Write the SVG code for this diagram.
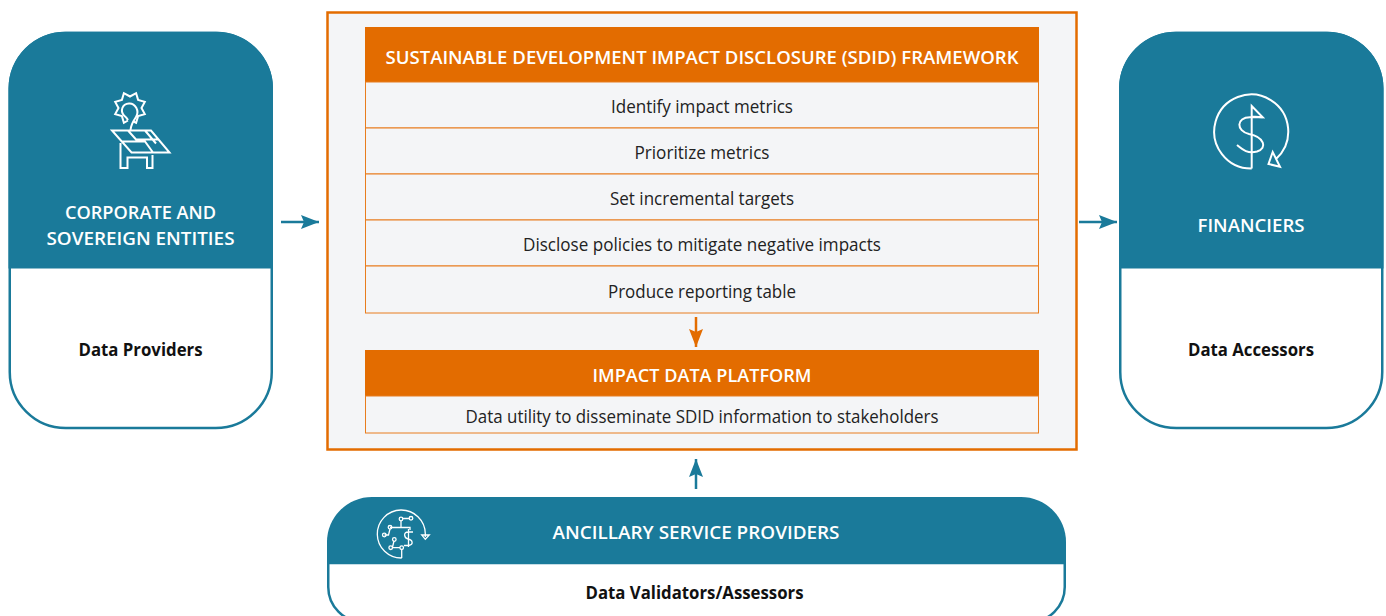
<svg xmlns="http://www.w3.org/2000/svg" width="1386" height="616" viewBox="0 0 1386 616">
<style>
text{font-family:"Open Sans","Noto Sans","Liberation Sans",sans-serif;text-anchor:middle}
.h{font-size:18px;font-weight:600;fill:#fff}
.b{font-size:18px;font-weight:700;fill:#111;}
.r{font-size:17.5px;fill:#222}
.row{fill:#f4f5f7;stroke:#e87d1e;stroke-width:1}
.bar{fill:#e36c00}
.teal{fill:#1a7a9a}
.ol{fill:#fff;stroke:#1a7a9a;stroke-width:2.5}
.ic{fill:none;stroke:#fff;stroke-width:2;stroke-linejoin:miter}
.ic2{fill:none;stroke:#fff;stroke-width:1.3}
</style>
<defs>
<marker id="at" markerUnits="userSpaceOnUse" markerWidth="18" markerHeight="14" refX="18" refY="7" orient="auto"><path d="M0 0L18 7L0 14L3 7Z" fill="#1a7a9a"/></marker>
<marker id="ao" markerUnits="userSpaceOnUse" markerWidth="18" markerHeight="14" refX="18" refY="7" orient="auto"><path d="M0 0L18 7L0 14L3 7Z" fill="#e36c00"/></marker>
</defs>
<rect width="1386" height="616" fill="#fff"/>
<g id="sdid-container">
<rect x="327.500" y="12.500" width="749" height="437" fill="#f4f5f7" stroke="#e36c00" stroke-width="2.500"/>
</g>
<g id="sdid-framework">
<rect class="bar" x="365" y="27" width="674" height="55"/>
<text class="h" x="702" y="64" textLength="633" lengthAdjust="spacingAndGlyphs">SUSTAINABLE DEVELOPMENT IMPACT DISCLOSURE (SDID) FRAMEWORK</text>
</g>
<g id="row-identify"><rect class="row" x="365.500" y="82" width="673" height="46"/><text class="r" x="702" y="112.500" textLength="182" lengthAdjust="spacingAndGlyphs">Identify impact metrics</text></g>
<g id="row-prioritize"><rect class="row" x="365.500" y="128" width="673" height="46"/><text class="r" x="702" y="158.500" textLength="135" lengthAdjust="spacingAndGlyphs">Prioritize metrics</text></g>
<g id="row-targets"><rect class="row" x="365.500" y="174" width="673" height="46"/><text class="r" x="702" y="204.500" textLength="184" lengthAdjust="spacingAndGlyphs">Set incremental targets</text></g>
<g id="row-policies"><rect class="row" x="365.500" y="220" width="673" height="46"/><text class="r" x="702" y="250.500" textLength="358" lengthAdjust="spacingAndGlyphs">Disclose policies to mitigate negative impacts</text></g>
<g id="row-reporting"><rect class="row" x="365.500" y="266" width="673" height="47"/><text class="r" x="702" y="297.500" textLength="188" lengthAdjust="spacingAndGlyphs">Produce reporting table</text></g>
<g id="impact-platform">
<rect class="bar" x="365" y="350" width="674" height="46"/>
<text class="h" x="702" y="381.500" textLength="219" lengthAdjust="spacingAndGlyphs">IMPACT DATA PLATFORM</text>
<rect class="row" x="365.500" y="396" width="673" height="37"/>
<text class="r" x="702" y="422.500" textLength="473" lengthAdjust="spacingAndGlyphs">Data utility to disseminate SDID information to stakeholders</text>
</g>
<g id="corporate">
<rect class="ol" x="9.750" y="33" width="262" height="395" rx="56"/>
<path class="teal" d="M8.500 268.500V88A56.500 56.500 0 0 1 65 31.750H217A56.500 56.500 0 0 1 273 88V268.500Z"/>
<path class="ic" d="M128 120.500L123.900 122.800L121.900 116.100L115.200 114.100L118.500 108L115.200 101.900L121.900 99.900L123.900 93.200L130 96.500L136.100 93.200L138.100 99.900L144.800 101.900L141.500 108L144.800 114.100L138.100 116.100L136.100 122.800L133.500 121.500" stroke-width="1.800"/>
<path class="ic" d="M130.500 130C131 124 134 120 136 117C140 111 135 103 129 103.500C122 104 120 111 124 115.500C126 117 127 118 128 120" stroke-width="1.800"/>
<path class="ic" d="M112 130.500H151L169.500 152.500H131.500ZM128 130.500L136 139.500H158M122 141.500H145L153 152.500M145 130.500L156 143.500M120.500 143V168H127.500V157.500H147V168H152.500V155"/>
<text class="h" x="140.500" y="218.500" textLength="151" lengthAdjust="spacingAndGlyphs">CORPORATE AND</text>
<text class="h" x="140.500" y="244.500" textLength="188" lengthAdjust="spacingAndGlyphs">SOVEREIGN ENTITIES</text>
<text class="b" x="140.500" y="355.500" textLength="124" lengthAdjust="spacingAndGlyphs">Data Providers</text>
</g>
<g id="financiers">
<rect class="ol" x="1120.250" y="33" width="262" height="395" rx="56"/>
<path class="teal" d="M1119 268.500V88A56.500 56.500 0 0 1 1175.500 31.750H1327.500A56.500 56.500 0 0 1 1383.500 88V268.500Z"/>
<path class="ic" d="M1251.700 168.500V106L1262.700 117.300L1251.700 116.500M1251.700 168.500A37 37 0 1 1 1276 159M1272.700 152L1268.500 164L1280 166.700Z"/>
<path class="ic" d="M1262.700 117.300H1250C1236 117.300 1236 131 1249 134C1264 137 1268 148 1257 151.500C1248 154 1243 150 1237 145"/>
<text class="h" x="1251" y="231.500" textLength="107" lengthAdjust="spacingAndGlyphs">FINANCIERS</text>
<text class="b" x="1251" y="355.500" textLength="126" lengthAdjust="spacingAndGlyphs">Data Accessors</text>
</g>
<g id="ancillary">
<path class="ol" d="M328.250 563V587A35 35 0 0 0 363 622H1029.500A35 35 0 0 0 1064.750 587V563Z"/>
<path class="teal" d="M327 563.500V542A45 45 0 0 1 372 497H1021A45 45 0 0 1 1066 542V563.500Z"/>
<path class="ic2" d="M401.700 558A24 24 0 1 1 425.300 533.500V537M421.700 535H429.300L425.300 539.300ZM401.700 558V549.500M401 521V527.500M390 527.500H410V530M403 518.500H409.500M384.500 535H388.500L390 529M392.500 547L394 541M392.500 547.700H400"/>
<circle class="ic2" cx="401" cy="519" r="1.800"/><circle class="ic2" cx="411" cy="518.300" r="1.800"/><circle class="ic2" cx="390" cy="527.300" r="1.800"/><circle class="ic2" cx="384.300" cy="535" r="1.800"/><circle class="ic2" cx="390.700" cy="547.700" r="1.800"/><circle class="ic2" cx="401.700" cy="547.700" r="1.800"/><circle class="ic2" cx="394.300" cy="539.500" r="1.800"/>
<path class="ic2" d="M413 532H408C403 532 404 538 408 539C413 540 414 545 408 545.500H404M408.500 529V547"/>
<text class="h" x="696" y="538.500" textLength="287" lengthAdjust="spacingAndGlyphs">ANCILLARY SERVICE PROVIDERS</text>
<text class="b" x="694.500" y="598.500" textLength="218" lengthAdjust="spacingAndGlyphs">Data Validators/Assessors</text>
</g>
<g id="connectors" fill="none" stroke-width="2.500">
<path d="M281 222H319" stroke="#1a7a9a" marker-end="url(#at)"/>
<path d="M1079 222H1117" stroke="#1a7a9a" marker-end="url(#at)"/>
<path d="M696 489V459" stroke="#1a7a9a" marker-end="url(#at)"/>
<path d="M696 317V347" stroke="#e36c00" marker-end="url(#ao)"/>
</g>
</svg>
